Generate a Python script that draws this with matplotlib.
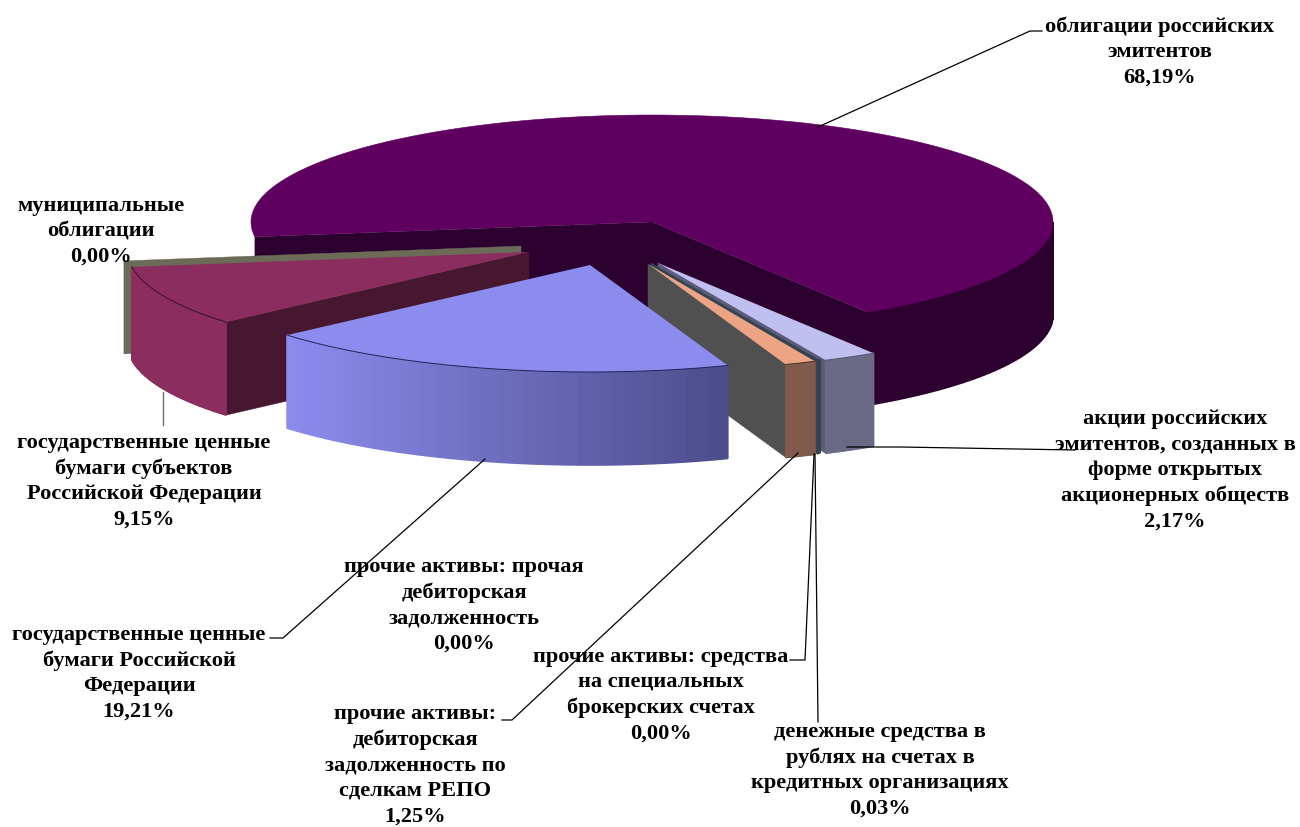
import numpy as np
import matplotlib
matplotlib.use('Agg')
import matplotlib.pyplot as plt
from matplotlib.colors import to_rgb

plt.rcParams['font.family'] = ['Liberation Serif', 'DejaVu Serif']

# доли, по часовой стрелке от левого края большого сектора
names = ['облигации российских\nэмитентов',
         'акции российских\nэмитентов, созданных в\nформе открытых\nакционерных обществ',
         'денежные средства в\nрублях на счетах в\nкредитных организациях',
         'прочие активы: средства\nна специальных\nброкерских счетах',
         'прочие активы:\nдебиторская\nзадолженность по\nсделкам РЕПО',
         'прочие активы: прочая\nдебиторская\nзадолженность',
         'государственные ценные\nбумаги Российской\nФедерации',
         'государственные ценные\nбумаги субъектов\nРоссийской Федерации',
         'муниципальные\nоблигации']
values = [68.19, 2.17, 0.03, 0.00, 1.25, 0.00, 19.21, 9.15, 0.00]

# оформление
label_pos = [(1160, 52), (1175, 470), (880, 770), (661, 695), (415, 765),
             (464, 605), (139, 673), (144, 481), (101, 231)]
apex = [(652, 222), (658, 263), (651, 263), (651, 263), (648, 264),
        (648, 264), (590, 265), (529, 252), (521, 246)]
top_col = ['#5f0060', '#bfc0f0', '#33434f', '#33434f', '#eda484',
           '#505050', '#8c8cee', '#8c2d5f', '#6b6b58']
out_col = ['#2c002f', '#6a6a86', '#33434f', '#33434f', '#825a4b',
           '#505050', '#8c8cee', '#8c2d5f', '#6b6b58']
side_col = ['#2c002f', '#5c5c7a', '#33434f', '#33434f', '#505050',
            '#505050', '#4c4c8a', '#47162f', '#6b6b58']
A, B, DEPTH = 401, 107, 93
START = 188

leaders = [[(818, 127), (1030, 31), (1042, 31)],
           [(847, 447), (900, 447), (1075, 450)],
           [(815, 454), (818, 722)],
           [(814, 454), (805, 660), (790, 660)],
           [(798, 453), (512, 720), (502, 720)],
           [(485, 459), (283, 638), (270, 638)]]

fig = plt.figure(figsize=(13, 8.27), dpi=100)
ax = fig.add_axes([0, 0, 1, 1])
ax.set_xlim(0, 1300)
ax.set_ylim(827, 0)
ax.axis('off')

angles = START - np.cumsum([0] + values) * 3.6


def rim(c, t0, t1, n=80):
    t = np.radians(np.linspace(t0, t1, n))
    return c[0] + A * np.cos(t), c[1] - B * np.sin(t)


def side(c, t, col):
    x, y = rim(c, t, t, 1)
    ax.fill([c[0], x[0], x[0], c[0]],
            [c[1], y[0], y[0] + DEPTH, c[1] + DEPTH], color=col, lw=0.3)


def outer(c, t0, t1, c0, c1=None):
    # внешняя стенка, только видимая передняя часть
    t0, t1 = min(t0, 0), min(t1, 0)
    if t0 == t1:
        return
    c1 = c0 if c1 is None else c1
    x, y = rim(c, t0, t1, 45)
    for i in range(len(x) - 1):
        f = (x[i] + x[i + 1]) / 2
        f = (f - x.min()) / (x.max() - x.min())
        col = np.array(to_rgb(c0)) * (1 - f) + np.array(to_rgb(c1)) * f
        ax.fill([x[i], x[i + 1], x[i + 1], x[i]],
                [y[i], y[i + 1], y[i + 1] + DEPTH, y[i] + DEPTH],
                fc=col, ec=col, lw=1.2, joinstyle='bevel')


def top(c, t0, t1, col, edge, lw=0.7):
    x, y = rim(c, t0, t1, 200)
    ax.fill(np.r_[c[0], x], np.r_[c[1], y], fc=col, ec='none')
    ax.plot(x, y, color=edge, lw=lw)


# сначала большой сектор
i = 0
t0, t1 = angles[0], angles[1]
outer(apex[i], t0, t1, out_col[i])
side(apex[i], t0, side_col[i])
side(apex[i], t1, side_col[i])
top(apex[i], t0, t1, top_col[i], top_col[i], 0.4)

# нулевая плоскость муниципальных облигаций за субъектами
i = 8
side(apex[i], angles[i], side_col[i])

# субъекты
i = 7
side(apex[i], angles[i], side_col[i])
outer(apex[i], angles[i], angles[i + 1], out_col[i])
top(apex[i], angles[i], angles[i + 1], top_col[i], '#3a1030')
ax.plot([163, 163], [392, 425], color='#707070', lw=1)

# акции, деньги, РЕПО
i = 1
side(apex[i], angles[i + 1], side_col[i])
outer(apex[i], angles[i], angles[i + 1], out_col[i])
top(apex[i], angles[i], angles[i + 1], top_col[i], '#55556f')
i = 2
side(apex[i], angles[i + 1], side_col[i])
top(apex[i], angles[i] + 0.15, angles[i + 1] - 0.15, top_col[i], top_col[i])
outer(apex[i], angles[i] + 0.15, angles[i + 1] - 0.15, out_col[i])
i = 4
side(apex[i], angles[i + 1], side_col[i])
outer(apex[i], angles[i], angles[i + 1], out_col[i])
top(apex[i], angles[i], angles[i + 1], top_col[i], '#4a3020')

# РФ, с градиентом на стенке
i = 6
outer(apex[i], angles[i], angles[i + 1], '#8c8cee', '#4c4c8a')
top(apex[i], angles[i], angles[i + 1], top_col[i], '#22225a')

for pts in leaders:
    xs, ys = zip(*pts)
    ax.plot(xs, ys, color='black', lw=0.9)

for name, val, pos in zip(names, values, label_pos):
    txt = name + '\n' + f'{val:.2f}'.replace('.', ',') + '%'
    ax.text(pos[0], pos[1], txt, ha='center', va='center', fontsize=16.1,
            fontweight='bold', linespacing=1.36, color='black')

fig.savefig('out.png', dpi=100)
